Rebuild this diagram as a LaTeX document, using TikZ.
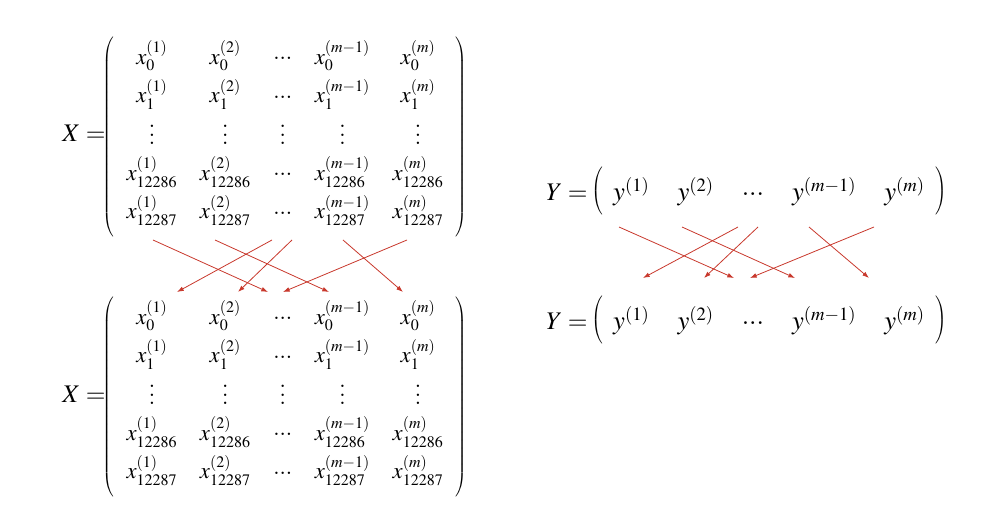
\documentclass[tikz,border=0pt]{standalone}
\usepackage{amsmath, amssymb}
\usepackage{mathptmx}
\usepackage{tikz}
\usetikzlibrary{matrix,arrows.meta}
\definecolor{shufred}{RGB}{200,56,44}
\DeclareMathSizes{17}{17}{12}{8}
\DeclareMathSizes{20}{20}{14}{10}
\newcommand{\hdt}{\raisebox{0.2em}{$...$}}
\newcommand{\vdt}{\lower2.5pt\vbox{\baselineskip6.5pt\lineskiplimit0pt\hbox{$.$}\hbox{$.$}\hbox{$.$}}}

\begin{document}
\begin{tikzpicture}[x=0.75pt, y=-0.75pt,
  lbl/.style = {anchor=base, inner sep=0pt, font=\fontsize{19}{23}\selectfont},
  xmat/.style = {matrix of math nodes, left delimiter=(, right delimiter=), inner sep=6pt,
    column sep=13pt, row sep=8pt,
    nodes={inner sep=2pt, text height=12pt, text depth=5pt, anchor=center, font=\fontsize{17}{20}\selectfont}},
  ymat/.style = {matrix of math nodes, left delimiter=(, right delimiter=), inner sep=4.5pt,
    column sep=17pt,
    nodes={inner sep=2pt, text height=19pt, text depth=4pt, anchor=center, font=\fontsize{20}{24}\selectfont}},
  shuf/.style = {draw=shufred, line width=0.6pt, -{Latex[length=5pt, width=3.5pt]}}]
\useasboundingbox (0,0) rectangle (997,516);

\node[lbl] (lx1) at (84,142) {$X=$};
\matrix (X1) [xmat] at (285,137) {
x^{(1)}_0 & x^{(2)}_0 & \hdt & x^{(m-1)}_0 & x^{(m)}_0 \\
x^{(1)}_1 & x^{(2)}_1 & \hdt & x^{(m-1)}_1 & x^{(m)}_1 \\
\vdt & \vdt & \vdt & \vdt & \vdt \\
x^{(1)}_{12286} & x^{(2)}_{12286} & \hdt & x^{(m-1)}_{12286} & x^{(m)}_{12286} \\
x^{(1)}_{12287} & x^{(2)}_{12287} & \hdt & x^{(m-1)}_{12287} & x^{(m)}_{12287} \\
};

\node[lbl] (lx2) at (84,403) {$X=$};
\matrix (X2) [xmat] at (285,397) {
x^{(1)}_0 & x^{(2)}_0 & \hdt & x^{(m-1)}_0 & x^{(m)}_0 \\
x^{(1)}_1 & x^{(2)}_1 & \hdt & x^{(m-1)}_1 & x^{(m)}_1 \\
\vdt & \vdt & \vdt & \vdt & \vdt \\
x^{(1)}_{12286} & x^{(2)}_{12286} & \hdt & x^{(m-1)}_{12286} & x^{(m)}_{12286} \\
x^{(1)}_{12287} & x^{(2)}_{12287} & \hdt & x^{(m-1)}_{12287} & x^{(m)}_{12287} \\
};

\node[lbl] (ly1) at (567,201) {$Y=$};
\matrix (Y1) [ymat] at (769,191) {
y^{(1)} & y^{(2)} & \hdt & y^{(m-1)} & y^{(m)} \\
};

\node[lbl] (ly2) at (567,330) {$Y=$};
\matrix (Y2) [ymat] at (769,320) {
y^{(1)} & y^{(2)} & \hdt & y^{(m-1)} & y^{(m)} \\
};

\foreach \sx/\tx [count=\i] in {153/268, 215/329, 272/177, 292/238, 343/403, 407/283} {
  \coordinate (xs\i) at (\sx,240);
  \coordinate (xt\i) at (\tx,292);
  \draw[shuf] (xs\i) -- (xt\i);
}
\foreach \sx/\tx [count=\i] in {619/734, 682/795, 738/643, 758/704, 809/869, 874/750} {
  \coordinate (ys\i) at (\sx,227);
  \coordinate (yt\i) at (\tx,278);
  \draw[shuf] (ys\i) -- (yt\i);
}
\end{tikzpicture}
\end{document}
